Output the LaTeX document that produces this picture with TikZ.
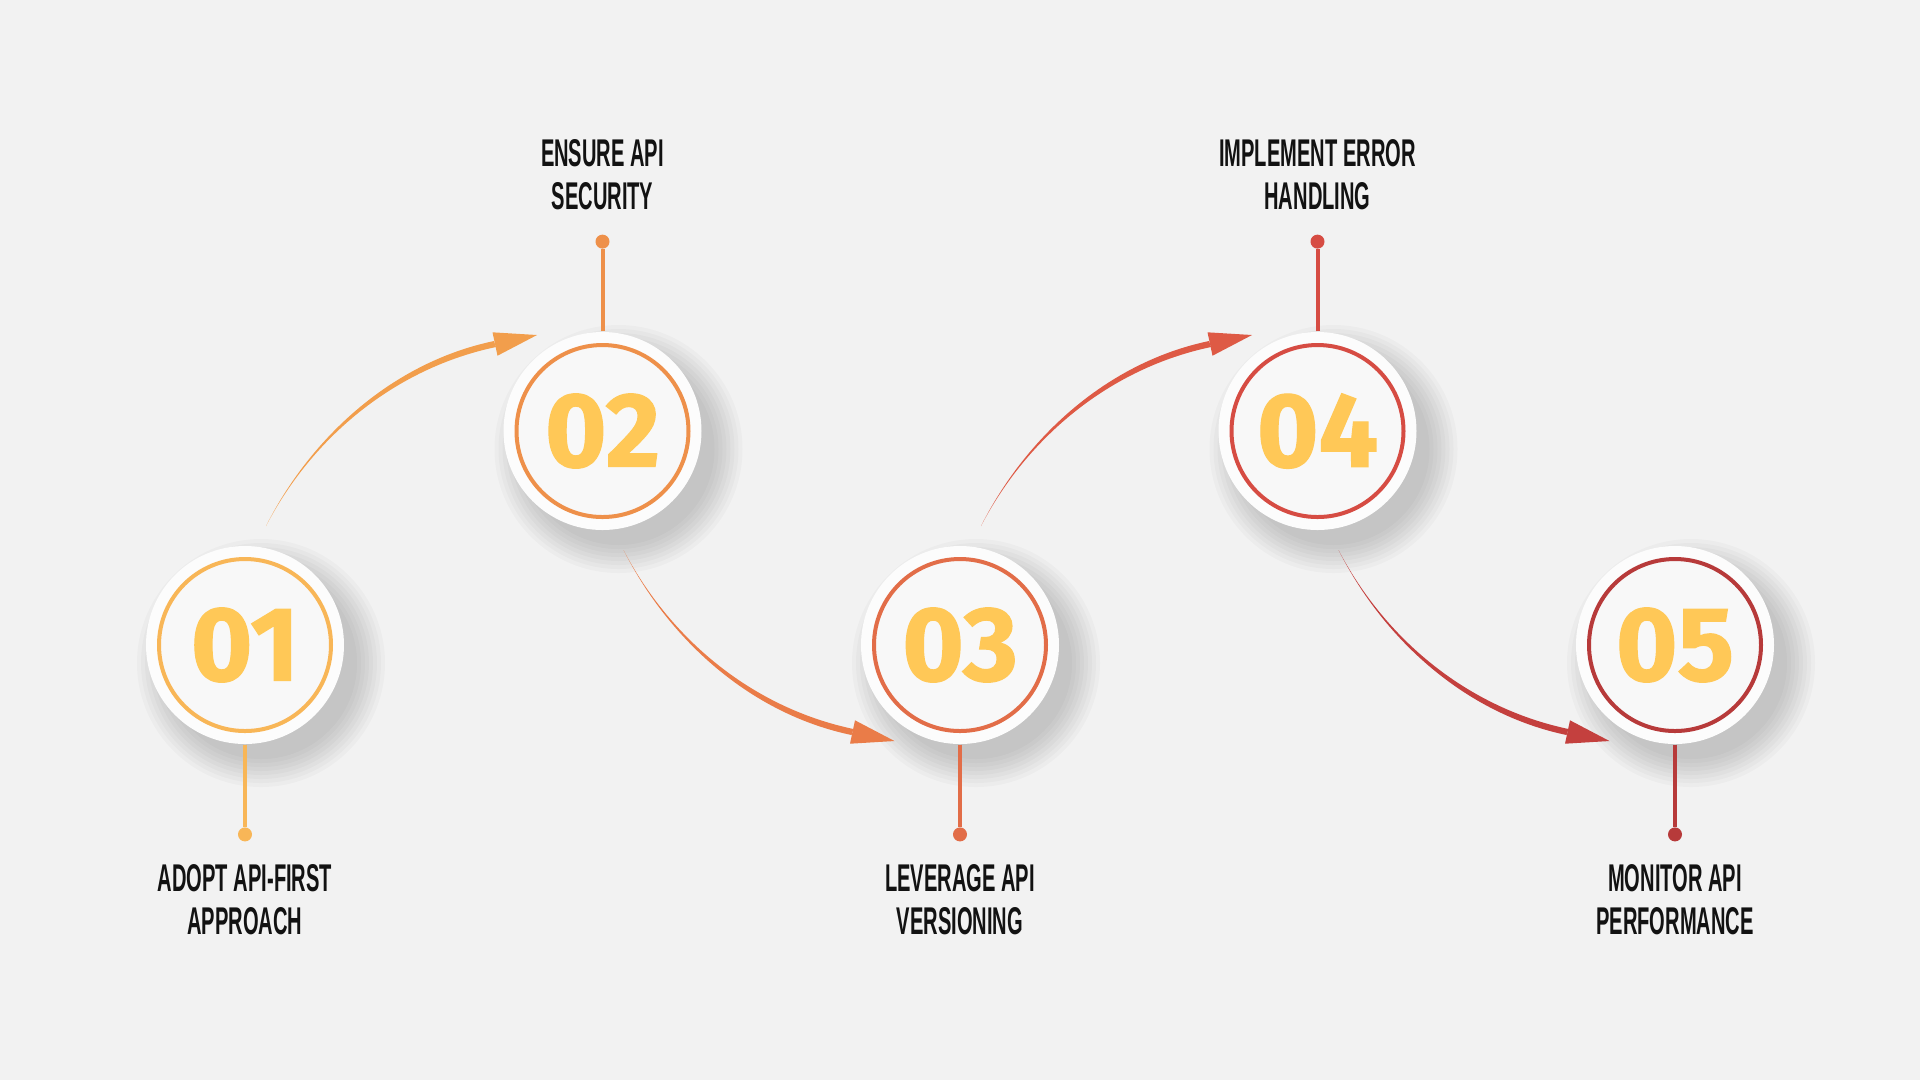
\documentclass[tikz,border=0pt]{standalone}
\usepackage{fontspec}
\usetikzlibrary{positioning}
\newfontfamily\labelfont[FakeStretch=0.52]{Liberation Sans}
\newfontfamily\numfont[FakeBold=1.2]{Fira Sans}
\definecolor{bg}{HTML}{F2F2F2}
\definecolor{discfill}{HTML}{FCFCFC}
\definecolor{innerfill}{HTML}{F8F8F8}
\definecolor{numyellow}{HTML}{FFC857}
\definecolor{ring1}{HTML}{F8B657}
\definecolor{ring2}{HTML}{EE904A}
\definecolor{ring3}{HTML}{E26D48}
\definecolor{ring4}{HTML}{D64C43}
\definecolor{ring5}{HTML}{B73A3A}
\definecolor{arrow1}{HTML}{F29E4C}
\definecolor{arrow2}{HTML}{EA7C48}
\definecolor{arrow3}{HTML}{DE5A45}
\definecolor{arrow4}{HTML}{C4403E}

\begin{document}
\begin{tikzpicture}[x=0.1mm, y=-0.1mm,
	bendarrow/.pic={
		\fill[#1] (21,-119) .. controls (67,-210) and (149,-283) .. (249,-304)
			-- (251,-298) .. controls (151,-277) and (68,-209) .. (21,-119) -- cycle;
		\fill[#1] (292,-310) -- (247.5,-312.7) -- (252.5,-289.3) -- cycle;
	}]
				\tikzstyle{disc} = [circle, minimum size=19.8mm, inner sep=0pt, fill=discfill, text=numyellow,
					font=\numfont\bfseries\fontsize{30}{30}\selectfont]
				\tikzstyle{haze} = [black, opacity=0.022]
				\tikzstyle{ring} = [line width=0.4mm, fill=innerfill]
				\tikzstyle{stem} = [line width=0.4mm]
				\tikzstyle{dot} = [circle, minimum size=1.4mm, inner sep=0pt]
				\tikzstyle{caption} = [align=center, inner sep=0pt, text=black!93,
					font=\labelfont\bfseries\fontsize{11}{12.24}\selectfont]
				% background
				\fill[bg] (0,0) rectangle (1920,1080);
				\coordinate (p1) at (245,645);
				\coordinate (p2) at (602.5,431);
				\coordinate (p3) at (960,645);
				\coordinate (p4) at (1317.5,431);
				\coordinate (p5) at (1675,645);
				% soft shadows
				\foreach \p in {p1,p2,p3,p4,p5}
					\foreach \r in {96,100,...,124}
						\fill[haze] ([shift={(16,18)}]\p) circle (\r);
				% steps
				\node[disc] (c1) at (p1) {};
				\node[disc] (c2) at (p2) {};
				\node[disc] (c3) at (p3) {};
				\node[disc] (c4) at (p4) {};
				\node[disc] (c5) at (p5) {};
				\draw[ring, draw=ring1] (c1) circle (86);
				\draw[ring, draw=ring2] (c2) circle (86);
				\draw[ring, draw=ring3] (c3) circle (86);
				\draw[ring, draw=ring4] (c4) circle (86);
				\draw[ring, draw=ring5] (c5) circle (86);
				\node[disc, fill=none] at (c1) {01};
				\node[disc, fill=none] at (c2) {02};
				\node[disc, fill=none] at (c3) {03};
				\node[disc, fill=none] at (c4) {04};
				\node[disc, fill=none] at (c5) {05};
				% stems and labels
				\node[dot, fill=ring1, below=8.2mm of c1] (d1) {};
				\node[dot, fill=ring2, above=8.2mm of c2] (d2) {};
				\node[dot, fill=ring3, below=8.2mm of c3] (d3) {};
				\node[dot, fill=ring4, above=8.2mm of c4] (d4) {};
				\node[dot, fill=ring5, below=8.2mm of c5] (d5) {};
				\draw[stem, ring1] (c1) -- (d1);
				\draw[stem, ring2] (c2) -- (d2);
				\draw[stem, ring3] (c3) -- (d3);
				\draw[stem, ring4] (c4) -- (d4);
				\draw[stem, ring5] (c5) -- (d5);
				\node[caption, below=2.2mm of d1] (l1) {ADOPT API-FIRST\\APPROACH};
				\node[caption, above=2.3mm of d2] (l2) {ENSURE API\\SECURITY};
				\node[caption, below=2.2mm of d3] (l3) {LEVERAGE API\\VERSIONING};
				\node[caption, above=2.3mm of d4] (l4) {IMPLEMENT ERROR\\HANDLING};
				\node[caption, below=2.2mm of d5] (l5) {MONITOR API\\PERFORMANCE};
				% arrows
				\pic at (c1) {bendarrow=arrow1};
				\pic[yscale=-1] at (c2) {bendarrow=arrow2};
				\pic at (c3) {bendarrow=arrow3};
				\pic[yscale=-1] at (c4) {bendarrow=arrow4};
\end{tikzpicture}
\end{document}
